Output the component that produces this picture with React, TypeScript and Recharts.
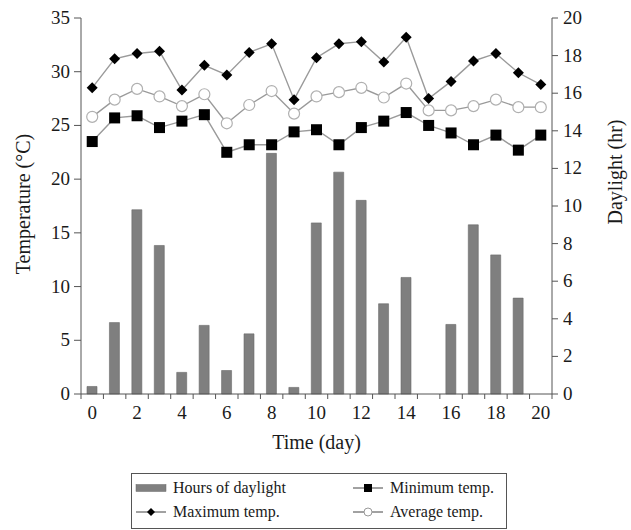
import React from "react";
import {
	ComposedChart,
	Bar,
	Line,
	XAxis,
	YAxis,
} from "recharts";

const days = [0, 1, 2, 3, 4, 5, 6, 7, 8, 9, 10, 11, 12, 13, 14, 15, 16, 17, 18, 19, 20];
const daylight = [0.4, 3.8, 9.8, 7.9, 1.15, 3.65, 1.25, 3.2, 12.8, 0.35, 9.1, 11.8, 10.3, 4.8, 6.2, 0, 3.7, 9.0, 7.4, 5.1, 0];
const maxTemp = [28.5, 31.2, 31.7, 31.9, 28.3, 30.6, 29.7, 31.8, 32.6, 27.4, 31.3, 32.6, 32.8, 30.9, 33.2, 27.5, 29.1, 31.0, 31.7, 29.9, 28.8];
const avgTemp = [25.8, 27.4, 28.4, 27.7, 26.8, 27.9, 25.2, 26.9, 28.2, 26.1, 27.7, 28.1, 28.5, 27.6, 28.9, 26.4, 26.4, 26.8, 27.4, 26.7, 26.7];
const minTemp = [23.5, 25.7, 25.9, 24.8, 25.4, 26.0, 22.5, 23.2, 23.2, 24.4, 24.6, 23.2, 24.8, 25.4, 26.2, 25.0, 24.3, 23.2, 24.1, 22.7, 24.1];
const tempTicks = [0, 5, 10, 15, 20, 25, 30, 35];
const daylightTicks = [0, 2, 4, 6, 8, 10, 12, 14, 16, 18, 20];

const data = days.map((d, i) => ({
	day: d,
	daylight: daylight[i],
	maxTemp: maxTemp[i],
	avgTemp: avgTemp[i],
	minTemp: minTemp[i],
}));

const W = 631;
const H = 530;
const MARGIN = { top: 18, right: 19, bottom: 86, left: 21 };
const AXIS_W = 60;
const PLOT_W = W - MARGIN.left - MARGIN.right - 2 * AXIS_W;
const BAND = PLOT_W / days.length;

const FONT = "Liberation Serif";
const INK = "#1a1a1a";
const AXIS = "#555";
const LINK = "#9a9a9a";
const TICK_FS = 19;
const TITLE_FS = 20;

const DayTick = (props: any) => {
	const { x, y, payload, index } = props;
	const half = BAND / 2;
	const last = index === days.length - 1;
	return (
		<g>
			<line x1={x - half} x2={x - half} y1={y} y2={y + 5} stroke={AXIS} />
			{last && <line x1={x + half} x2={x + half} y1={y} y2={y + 5} stroke={AXIS} />}
			{payload.value % 2 === 0 && (
				<text x={x} y={y + 25} textAnchor="middle" fontSize={TICK_FS} fontFamily={FONT} fill={INK}>
					{payload.value}
				</text>
			)}
		</g>
	);
};

const ValueTick = (props: any) => {
	const { x, y, payload, textAnchor } = props;
	return (
		<text x={x} y={y + 6} textAnchor={textAnchor} fontSize={TICK_FS} fontFamily={FONT} fill={INK}>
			{payload.value}
		</text>
	);
};

const Diamond = (props: any) => {
	const { cx, cy } = props;
	if (cx == null || cy == null) return null;
	const r = 5.5;
	return <path d={`M${cx},${cy - r}L${cx + r},${cy}L${cx},${cy + r}L${cx - r},${cy}Z`} fill="#000" />;
};

const Square = (props: any) => {
	const { cx, cy } = props;
	if (cx == null || cy == null) return null;
	return <rect x={cx - 5.5} y={cy - 5.5} width={11} height={11} fill="#000" />;
};

const LeftTitle = (props: any) => {
	const { viewBox } = props;
	const cx = viewBox.x + 2;
	const cy = viewBox.y + viewBox.height / 2 - 2;
	return (
		<text x={cx} y={cy} transform={`rotate(-90 ${cx} ${cy})`} textAnchor="middle" dominantBaseline="central" fontSize={TITLE_FS} fontFamily={FONT} fill={INK}>
			Temperature (°C)
		</text>
	);
};

const RightTitle = (props: any) => {
	const { viewBox } = props;
	const cx = viewBox.x + 63;
	const cy = viewBox.y + 154;
	return (
		<text x={cx} y={cy} transform={`rotate(-90 ${cx} ${cy})`} textAnchor="middle" dominantBaseline="central" fontSize={TITLE_FS} fontFamily={FONT} fill={INK}>
			Daylight (hr)
		</text>
	);
};

const BottomTitle = (props: any) => {
	const { viewBox } = props;
	return (
		<text x={viewBox.x + viewBox.width / 2} y={viewBox.y + 55} textAnchor="middle" fontSize={TITLE_FS} fontFamily={FONT} fill={INK}>
			Time (day)
		</text>
	);
};

function LegendSymbol({ kind }: { kind: string }) {
	return (
		<svg width={32} height={12} style={{ display: "block" }}>
			{kind === "bar" ? (
				<rect x={1} y={2.5} width={30} height={7} fill="#808080" stroke="#6a6a6a" strokeWidth={0.5} />
			) : (
				<>
					<line x1={1} x2={31} y1={6} y2={6} stroke="#444" strokeWidth={1} />
					{kind === "diamond" && <path d="M16,2L20,6L16,10L12,6Z" fill="#000" />}
					{kind === "square" && <rect x={12} y={2} width={8} height={8} fill="#000" />}
					{kind === "circle" && <circle cx={16} cy={6} r={4} fill="#fff" stroke="#999" />}
				</>
			)}
		</svg>
	);
}

const legendItems = [
	{ label: "Hours of daylight", kind: "bar", col: 0, row: 0 },
	{ label: "Minimum temp.", kind: "square", col: 1, row: 0 },
	{ label: "Maximum temp.", kind: "diamond", col: 0, row: 1 },
	{ label: "Average temp.", kind: "circle", col: 1, row: 1 },
];

function ChartLegend() {
	return (
		<div
			style={{
				position: "absolute",
				left: 131,
				top: 473,
				width: 376,
				height: 56,
				border: `1px solid ${AXIS}`,
				boxSizing: "border-box",
				fontFamily: FONT,
				fontSize: 16,
				color: INK,
			}}
		>
			{legendItems.map((it) => (
				<div
					key={it.label}
					style={{
						position: "absolute",
						left: it.col === 0 ? 3 : 220,
						top: it.row === 0 ? 4 : 28,
						height: 20,
						display: "flex",
						alignItems: "center",
						whiteSpace: "nowrap",
					}}
				>
					<LegendSymbol kind={it.kind} />
					<span style={{ marginLeft: 6, lineHeight: "20px" }}>{it.label}</span>
				</div>
			))}
		</div>
	);
}

export default function App() {
	return (
		<div style={{ position: "absolute", left: 0, top: 0, width: W, height: H, background: "#fff", fontFamily: FONT }}>
			<ComposedChart width={W} height={H} data={data} margin={MARGIN}>
				<XAxis
					dataKey="day"
					type="category"
					interval={0}
					height={50}
					tickSize={0}
					tickMargin={0}
					tickLine={false}
					axisLine={{ stroke: AXIS }}
					tick={<DayTick />}
					label={<BottomTitle />}
				/>
				<YAxis
					yAxisId="temp"
					width={AXIS_W}
					domain={[0, 35]}
					ticks={tempTicks}
					interval={0}
					tickSize={7}
					tickMargin={4}
					axisLine={{ stroke: AXIS }}
					tickLine={{ stroke: AXIS }}
					tick={<ValueTick />}
					label={<LeftTitle />}
				/>
				<YAxis
					yAxisId="day"
					orientation="right"
					width={AXIS_W}
					domain={[0, 20]}
					ticks={daylightTicks}
					interval={0}
					tickSize={6}
					tickMargin={5}
					axisLine={{ stroke: AXIS }}
					tickLine={{ stroke: AXIS }}
					tick={<ValueTick />}
					label={<RightTitle />}
				/>
				<Bar
					yAxisId="day"
					dataKey="daylight"
					barSize={10}
					fill="#7f7f7f"
					stroke="#696969"
					strokeWidth={0.6}
					isAnimationActive={false}
				/>
				<Line
					yAxisId="temp"
					dataKey="maxTemp"
					type="linear"
					stroke={LINK}
					strokeWidth={1.4}
					dot={<Diamond />}
					activeDot={false}
					isAnimationActive={false}
				/>
				<Line
					yAxisId="temp"
					dataKey="avgTemp"
					type="linear"
					stroke={LINK}
					strokeWidth={1.4}
					dot={{ r: 5.5, fill: "#fff", stroke: "#b0b0b0", strokeWidth: 1.2 }}
					activeDot={false}
					isAnimationActive={false}
				/>
				<Line
					yAxisId="temp"
					dataKey="minTemp"
					type="linear"
					stroke={LINK}
					strokeWidth={1.4}
					dot={<Square />}
					activeDot={false}
					isAnimationActive={false}
				/>
			</ComposedChart>
			<ChartLegend />
		</div>
	);
}
